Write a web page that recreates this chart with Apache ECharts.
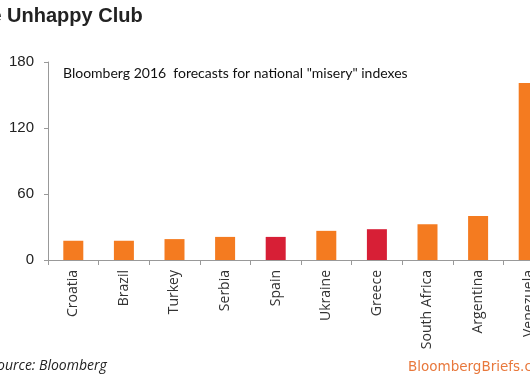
<!DOCTYPE html>
<html>
<head>
<meta charset="utf-8">
<script src="https://cdn.jsdelivr.net/npm/echarts@6/dist/echarts.min.js"></script>
<style>html,body{margin:0;padding:0;background:#fff;overflow:hidden}#c{width:560px;height:383px}</style>
</head>
<body>
<div id="c"></div>
<script>
var categories = ['Croatia','Brazil','Turkey','Serbia','Spain','Ukraine','Greece','South Africa','Argentina','Venezuela'];
var values = [17.5, 17.5, 19, 21, 21, 26.5, 28, 32.5, 40, 161];
var highlight = [false, false, false, false, true, false, true, false, false, false];
var yTicks = [0, 60, 120, 180];

var ORANGE = '#F47B20', RED = '#D71F36';
var chart = echarts.init(document.getElementById('c'), null, {renderer: 'canvas'});
chart.setOption({
  animation: false,
  backgroundColor: '#fff',
  grid: {left: 48, top: 62, width: 506, height: 198, containLabel: false},
  xAxis: {
    type: 'category', data: categories, boundaryGap: true,
    axisLine: {show: true, lineStyle: {color: '#999', width: 1}},
    axisTick: {show: true, interval: 0, length: 5, lineStyle: {color: '#999'}},
    axisLabel: {interval: 0, rotate: 90, margin: 10, fontSize: 14, fontFamily: 'Open Sans', color: '#333'}
  },
  yAxis: {
    type: 'value', min: yTicks[0], max: yTicks[yTicks.length-1], interval: 60,
    axisLine: {show: true, lineStyle: {color: '#999', width: 1}},
    axisTick: {show: true, length: 4, lineStyle: {color: '#999'}},
    splitLine: {show: false},
    axisLabel: {margin: 14, fontSize: 15, fontFamily: 'Liberation Sans', color: '#222'}
  },
  series: [{
    type: 'bar', barWidth: 20,
    data: values.map(function(v, i){ return {value: v, itemStyle: {color: highlight[i] ? RED : ORANGE}}; })
  }],
  graphic: [
    {type: 'text', left: -34, top: 6, style: {text: 'The Unhappy Club', font: 'bold 20px "Liberation Sans"', fill: '#222'}},
    {type: 'text', left: 63, top: 66, style: {text: 'Bloomberg 2016  forecasts for national "misery" indexes', font: '14px Lato', fill: '#111'}},
    {type: 'text', left: -10, top: 359, style: {text: 'Source: Bloomberg', font: 'italic 14px "Open Sans"', fill: '#222'}},
    {type: 'text', left: 408, top: 360, style: {text: 'BloombergBriefs.com', font: '13.5px "DejaVu Sans"', fill: '#E8783C'}}
  ]
});
</script>
</body>
</html>
